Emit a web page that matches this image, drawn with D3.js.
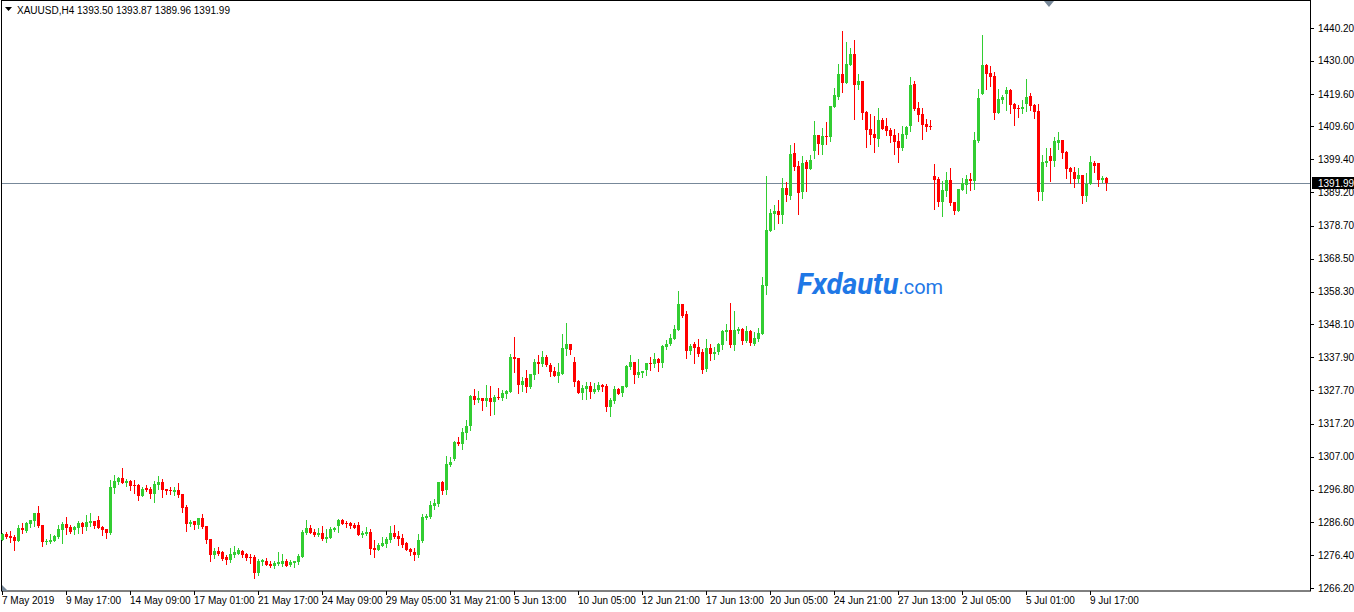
<!DOCTYPE html>
<html lang="en">
<head>
  <meta charset="UTF-8">
  <style>
    body { margin: 0; background: #fff; }
    svg { display: block; font-family: "Liberation Sans", Arial, sans-serif; }
    .tick-label { font-size: 10px; fill: #000; }
    .up { fill: #32cd32; stroke: #32cd32; }
    .down { fill: #ff0000; stroke: #ff0000; }
  </style>
</head>
<body>
  <script src="https://d3js.org/d3.v7.min.js"></script>
  <svg></svg>
  <script>

// XAUUSD H4 candles, 7 May 2019 -> 10 Jul 2019
const opens = [
  1281.2,1283.0,1282.3,1281.9,1280.9,1284.8,1283.9,1286.1,1287.1,1289.5,
  1285.8,1280.5,1280.5,1280.9,1282.0,1284.3,1286.1,1285.1,1284.2,1284.9,
  1286.4,1285.1,1286.4,1287.0,1287.3,1285.2,1284.5,1283.3,1297.4,1299.2,
  1300.4,1298.8,1299.4,1298.2,1298.3,1294.9,1297.3,1297.1,1295.5,1298.3,
  1299.1,1296.9,1296.7,1296.1,1296.6,1295.4,1291.4,1286.1,1287.0,1285.9,
  1287.8,1285.5,1281.4,1276.4,1277.8,1277.4,1275.9,1274.9,1276.4,1276.9,
  1277.7,1276.7,1275.9,1275.9,1270.9,1274.4,1274.6,1273.6,1273.0,1273.7,
  1273.8,1274.6,1273.5,1274.0,1274.3,1275.9,1283.2,1284.8,1283.6,1282.7,
  1283.3,1281.5,1281.8,1284.3,1285.4,1287.3,1286.5,1286.4,1285.9,1285.9,
  1282.8,1283.1,1283.6,1278.6,1278.0,1279.2,1279.9,1281.1,1283.4,1282.4,
  1281.7,1280.3,1278.3,1277.4,1276.4,1280.8,1288.0,1288.4,1291.8,1292.4,
  1299.1,1296.8,1304.5,1306.2,1311.6,1311.0,1314.4,1316.6,1325.8,1324.6,
  1325.2,1324.3,1325.2,1324.0,1325.5,1325.3,1326.6,1327.2,1338.0,1337.7,
  1329.3,1331.4,1328.6,1332.5,1336.4,1335.8,1338.0,1335.5,1333.7,1332.2,
  1332.7,1340.5,1342.0,1336.4,1330.5,1326.8,1328.1,1329.0,1327.1,1327.7,
  1329.3,1329.0,1322.5,1324.3,1328.0,1326.7,1328.6,1335.0,1336.4,1332.4,
  1333.0,1333.9,1336.1,1335.8,1337.4,1336.1,1341.1,1342.0,1343.6,1346.4,
  1354.4,1351.3,1339.9,1342.0,1341.1,1339.5,1334.2,1340.7,1339.0,1339.6,
  1341.7,1345.7,1346.4,1341.7,1346.2,1346.7,1342.9,1346.1,1342.1,1343.6,
  1345.2,1360.1,1377.1,1382.4,1383.3,1382.1,1390.5,1388.0,1401.5,1397.3,
  1389.1,1398.6,1396.3,1402.1,1407.0,1403.9,1406.7,1406.3,1415.7,1418.8,
  1425.9,1423.2,1428.8,1432.1,1422.5,1423.7,1414.1,1408.8,1407.3,1405.7,
  1411.6,1409.8,1408.5,1407.0,1405.1,1402.9,1407.0,1409.8,1422.8,1415.4,
  1413.5,1410.4,1409.8,1394.2,1393.3,1386.1,1389.6,1393.0,1386.1,1383.3,
  1390.0,1391.4,1393.3,1392.7,1405.1,1419.7,1428.7,1426.2,1425.3,1413.8,
  1417.8,1419.7,1421.0,1416.6,1415.4,1415.0,1416.6,1419.1,1416.3,1414.4,
  1389.3,1398.3,1400.4,1398.9,1404.5,1405.4,1401.7,1396.7,1395.5,1393.3,
  1394.5,1388.0,1391.7,1398.3,1398.3,1393.0,1393.50
];
const highs = [
  1283.3,1283.5,1283.9,1282.7,1285.8,1286.4,1286.7,1287.3,1289.5,1291.7,
  1285.8,1281.4,1283.0,1282.7,1285.8,1286.8,1288.4,1285.8,1285.5,1287.0,
  1286.7,1288.9,1289.4,1287.0,1288.6,1285.6,1284.5,1299.8,1301.3,1300.8,
  1303.4,1300.1,1299.8,1299.8,1298.6,1297.5,1298.2,1297.5,1299.4,1301.0,
  1300.1,1296.9,1297.6,1297.5,1298.8,1295.4,1292.0,1287.3,1287.0,1287.9,
  1289.2,1285.5,1281.4,1278.7,1278.9,1277.7,1276.4,1278.5,1279.2,1278.7,
  1278.0,1277.2,1276.7,1276.4,1275.1,1275.3,1275.4,1274.6,1274.7,1277.4,
  1276.7,1275.1,1274.9,1274.6,1276.7,1284.2,1287.3,1285.8,1284.4,1284.8,
  1285.4,1284.4,1285.0,1285.0,1287.6,1287.6,1287.1,1286.8,1286.3,1286.7,
  1284.0,1285.1,1284.5,1281.1,1280.3,1282.1,1281.9,1285.4,1285.8,1283.9,
  1283.0,1280.5,1278.7,1278.6,1283.0,1289.2,1289.1,1293.2,1293.8,1299.1,
  1299.4,1307.2,1306.8,1311.9,1313.1,1315.9,1318.4,1326.2,1328.0,1327.4,
  1325.2,1329.3,1328.9,1326.2,1328.3,1327.6,1327.7,1338.9,1344.2,1337.7,
  1331.8,1333.9,1332.7,1337.4,1338.6,1339.8,1338.6,1336.2,1335.0,1336.2,
  1345.1,1348.5,1342.0,1338.0,1330.8,1329.3,1330.2,1330.2,1329.9,1330.2,
  1329.6,1329.6,1325.3,1329.0,1328.4,1329.0,1335.5,1338.6,1336.4,1337.4,
  1333.6,1336.1,1338.0,1339.2,1337.7,1341.7,1343.3,1345.1,1347.9,1358.5,
  1354.4,1352.3,1342.0,1342.6,1343.6,1340.5,1343.6,1342.0,1341.0,1342.4,
  1346.4,1348.2,1354.8,1352.3,1347.3,1347.0,1347.6,1346.4,1345.7,1347.0,
  1362.8,1394.2,1384.0,1385.2,1386.8,1393.6,1392.4,1404.0,1404.5,1399.0,
  1400.4,1399.2,1400.7,1411.3,1407.0,1409.2,1411.0,1416.0,1421.6,1429.0,
  1439.3,1435.9,1434.0,1436.5,1425.9,1423.7,1414.4,1413.5,1412.9,1415.4,
  1412.3,1412.3,1409.1,1408.8,1407.6,1409.8,1409.8,1425.0,1423.7,1417.2,
  1415.4,1411.9,1411.6,1398.0,1393.9,1392.7,1395.5,1396.7,1386.1,1390.2,
  1393.6,1394.5,1395.2,1407.9,1421.3,1438.1,1429.0,1428.4,1426.5,1421.3,
  1419.4,1421.9,1421.3,1416.9,1416.3,1417.8,1424.4,1420.0,1416.6,1416.6,
  1400.8,1402.9,1402.9,1406.4,1407.9,1405.4,1402.0,1397.0,1397.0,1396.7,
  1394.5,1395.2,1400.4,1398.9,1398.3,1394.2,1393.87
];
const lows = [
  1281.0,1281.6,1280.6,1278.0,1280.8,1283.4,1283.7,1285.1,1285.4,1285.2,
  1279.3,1280.0,1280.3,1280.7,1281.8,1280.3,1283.1,1283.3,1283.1,1283.3,
  1283.3,1284.3,1285.5,1284.9,1284.7,1282.7,1281.8,1283.0,1295.8,1298.5,
  1298.8,1297.9,1296.6,1295.8,1293.6,1294.9,1296.3,1294.3,1293.0,1297.1,
  1294.6,1295.5,1295.4,1295.2,1294.6,1289.9,1283.9,1285.5,1284.6,1284.8,
  1284.8,1280.3,1274.6,1275.6,1276.6,1274.9,1273.6,1274.4,1275.9,1276.7,
  1275.9,1274.9,1274.0,1269.4,1270.3,1273.5,1273.3,1272.8,1272.5,1273.3,
  1273.1,1273.0,1273.1,1272.8,1273.6,1275.7,1282.9,1283.2,1282.3,1282.3,
  1281.1,1280.5,1281.8,1284.0,1283.6,1286.1,1285.2,1284.8,1284.8,1282.8,
  1282.1,1282.8,1276.7,1275.8,1278.0,1279.2,1278.9,1280.6,1281.6,1279.5,
  1279.0,1278.0,1276.5,1274.9,1275.9,1280.5,1287.5,1288.0,1290.6,1291.8,
  1295.5,1295.5,1304.2,1306.0,1310.6,1309.3,1312.5,1315.3,1323.4,1324.1,
  1321.5,1322.7,1320.0,1320.4,1324.9,1324.5,1325.3,1327.2,1333.4,1326.9,
  1327.4,1327.2,1328.3,1331.2,1333.1,1335.2,1335.2,1332.2,1332.2,1330.3,
  1332.7,1338.6,1338.9,1328.9,1326.9,1324.9,1324.9,1325.3,1326.8,1327.4,
  1327.4,1321.3,1319.7,1323.8,1326.6,1326.0,1328.6,1334.4,1330.0,1331.8,
  1331.9,1332.4,1333.9,1334.9,1333.6,1334.9,1340.5,1341.7,1343.6,1346.4,
  1350.4,1337.7,1339.0,1336.2,1338.3,1333.0,1333.5,1337.0,1337.5,1338.8,
  1340.5,1343.3,1341.2,1340.1,1345.5,1342.1,1342.6,1341.7,1341.7,1342.9,
  1345.1,1357.7,1377.1,1377.8,1379.6,1379.6,1386.5,1387.0,1396.0,1382.5,
  1387.5,1389.4,1396.3,1399.9,1400.9,1400.9,1404.2,1405.2,1415.7,1418.2,
  1420.4,1423.2,1428.8,1411.9,1421.3,1411.9,1403.2,1404.2,1401.7,1403.6,
  1408.8,1407.0,1404.8,1401.1,1398.6,1402.3,1406.0,1408.2,1414.7,1411.3,
  1405.7,1408.2,1408.8,1384.0,1384.9,1381.8,1388.0,1385.2,1382.4,1383.3,
  1389.9,1388.9,1389.9,1390.2,1404.8,1419.7,1421.3,1422.2,1411.9,1413.8,
  1416.9,1414.7,1413.8,1410.1,1412.6,1413.8,1414.4,1414.7,1412.3,1386.8,
  1386.8,1397.3,1392.7,1397.3,1402.6,1399.8,1393.6,1392.1,1390.8,1392.4,
  1385.8,1386.5,1391.7,1395.5,1391.1,1392.4,1389.96
];
const closes = [
  1283.1,1282.1,1281.8,1280.9,1284.8,1284.3,1286.4,1287.3,1289.5,1285.6,
  1280.5,1280.9,1281.2,1282.3,1284.5,1286.1,1284.9,1283.7,1285.2,1286.4,
  1285.1,1286.7,1287.0,1285.4,1284.9,1284.3,1283.4,1297.6,1299.4,1300.3,
  1298.8,1299.4,1298.0,1297.9,1294.9,1297.1,1296.6,1295.5,1298.5,1299.1,
  1296.7,1296.4,1296.2,1296.8,1295.1,1291.2,1286.2,1286.7,1285.9,1287.9,
  1285.0,1281.1,1276.4,1277.8,1276.9,1275.2,1274.9,1276.7,1277.4,1278.0,
  1276.4,1275.6,1275.6,1270.9,1274.7,1274.9,1273.3,1273.1,1274.0,1274.4,
  1274.6,1273.1,1274.3,1274.6,1276.1,1283.6,1284.7,1283.4,1282.7,1283.3,
  1281.5,1282.1,1284.5,1284.8,1287.3,1286.2,1286.1,1285.5,1284.9,1282.8,
  1283.3,1283.6,1278.4,1278.0,1279.5,1280.3,1281.4,1283.4,1282.0,1281.5,
  1279.6,1278.0,1277.3,1276.4,1281.1,1288.2,1288.7,1292.0,1292.6,1299.1,
  1296.4,1304.7,1305.5,1311.6,1310.9,1314.6,1316.5,1325.8,1324.6,1325.2,
  1324.3,1325.2,1324.0,1325.5,1325.2,1326.8,1327.4,1338.0,1337.3,1329.3,
  1330.6,1328.8,1332.7,1336.4,1335.9,1338.0,1335.5,1333.4,1332.2,1333.3,
  1340.8,1342.0,1340.2,1330.3,1326.9,1328.3,1329.0,1327.1,1328.0,1329.3,
  1328.8,1322.5,1324.6,1328.0,1326.6,1329.0,1335.2,1336.4,1332.4,1333.3,
  1333.6,1336.1,1335.8,1337.4,1336.1,1341.4,1342.0,1343.9,1346.7,1354.4,
  1350.7,1339.9,1341.4,1340.8,1338.9,1333.9,1340.7,1339.0,1339.6,1342.1,
  1345.9,1346.4,1341.7,1346.4,1346.7,1343.0,1346.1,1342.3,1343.9,1345.4,
  1360.3,1377.4,1382.7,1383.3,1382.1,1390.5,1388.3,1401.0,1397.0,1388.9,
  1398.2,1396.3,1399.2,1407.0,1404.2,1406.7,1406.3,1416.0,1419.4,1425.9,
  1423.2,1429.0,1432.1,1422.5,1423.7,1413.8,1408.5,1407.0,1406.0,1411.6,
  1408.8,1408.2,1406.7,1404.8,1402.9,1407.3,1409.5,1422.5,1415.1,1413.2,
  1410.1,1409.5,1409.5,1393.0,1386.1,1389.9,1393.0,1385.8,1383.3,1390.2,
  1392.0,1393.3,1392.7,1405.4,1418.5,1428.7,1425.9,1425.0,1413.8,1418.2,
  1418.8,1421.0,1416.3,1415.0,1415.0,1415.7,1418.8,1416.0,1414.1,1389.3,
  1398.6,1398.9,1398.9,1405.1,1405.4,1401.4,1396.4,1395.5,1393.3,1394.5,
  1388.0,1391.7,1398.6,1397.3,1393.0,1393.6,1391.99
];

// axis labels as shown by the terminal
const priceTicks = [1440.20,1430.00,1419.60,1409.60,1399.40,1389.20,1378.70,1368.50,1358.30,
                    1348.10,1337.90,1327.70,1317.20,1307.00,1296.80,1286.60,1276.40,1266.20];
const timeLabels = ["7 May 2019","9 May 17:00","14 May 09:00","17 May 01:00","21 May 17:00",
                    "24 May 09:00","29 May 05:00","31 May 21:00","5 Jun 13:00","10 Jun 05:00",
                    "12 Jun 21:00","17 Jun 13:00","20 Jun 05:00","24 Jun 21:00","27 Jun 13:00",
                    "2 Jul 05:00","5 Jul 01:00","9 Jul 17:00"];
const barsPerLabel = 16;
const symbol = "XAUUSD,H4";
const lastBar = [1393.50, 1393.87, 1389.96, 1391.99]; // O H L C
const bidPrice = 1391.99;

const w = 1354;
const h = 612;
const plotRight = 1310;
const plotBottom = 591;
const n = opens.length;

const svg = d3.select("svg")
              .attr("width", w)
              .attr("height", h);

// bar index -> candle centre, 4px per bar
const xScale = d3.scaleLinear()
                 .domain([0, n - 1])
                 .range([2.5, 2.5 + 4 * (n - 1)]);

const yScale = d3.scaleLinear()
                 .domain([1266.2, 1440.2])
                 .range([588, 28]);

//frame
svg.append("rect")
   .attr("x", 1.5).attr("y", 0.5)
   .attr("width", plotRight - 1).attr("height", plotBottom - 0.5)
   .attr("fill", "none").attr("stroke", "#000");

//bid line
svg.append("line")
   .attr("x1", 2).attr("x2", plotRight)
   .attr("y1", Math.round(yScale(bidPrice)) + 0.5).attr("y2", Math.round(yScale(bidPrice)) + 0.5)
   .attr("stroke", "#778899");

//watermark
const wm = svg.append("text")
              .attr("x", 797).attr("y", 294)
              .attr("fill", "#1f78e6")
              .style("font-family", "Roboto, 'Liberation Sans', sans-serif");
wm.append("tspan").text("Fxdautu")
  .style("font-size", "29px").style("font-weight", "bold").style("font-style", "italic");
wm.append("tspan").text(".com")
  .style("font-size", "20px");

//candles
const candles = svg.append("g")
                   .selectAll("g")
                   .data(d3.range(n))
                   .enter()
                   .append("g")
                   .attr("class", i => closes[i] >= opens[i] ? "up" : "down");

candles.append("line")
       .attr("x1", i => xScale(i)).attr("x2", i => xScale(i))
       .attr("y1", i => Math.round(yScale(highs[i])))
       .attr("y2", i => Math.round(yScale(lows[i])) + 1)
       .attr("stroke-width", 1);

candles.append("rect")
       .attr("x", i => xScale(i) - 1.5)
       .attr("width", 3)
       .attr("y", i => Math.round(yScale(Math.max(opens[i], closes[i]))))
       .attr("height", i => Math.max(1, Math.round(yScale(Math.min(opens[i], closes[i]))) - Math.round(yScale(Math.max(opens[i], closes[i])))))
       .attr("stroke", "none");

//price axis
const yAxis = svg.append("g");
yAxis.selectAll("line")
     .data(priceTicks)
     .enter()
     .append("line")
     .attr("x1", plotRight).attr("x2", plotRight + 4)
     .attr("y1", d => Math.round(yScale(d)) + 0.5).attr("y2", d => Math.round(yScale(d)) + 0.5)
     .attr("stroke", "#000");
yAxis.selectAll("text")
     .data(priceTicks)
     .enter()
     .append("text")
     .attr("class", "tick-label")
     .attr("x", plotRight + 8)
     .attr("y", d => yScale(d) + 3.5)
     .text(d => d.toFixed(2));

//bid price box
svg.append("rect")
   .attr("x", plotRight + 2).attr("y", Math.round(yScale(bidPrice)) - 6)
   .attr("width", w - plotRight - 2).attr("height", 12)
   .attr("fill", "#000");
svg.append("text")
   .attr("class", "tick-label")
   .attr("x", plotRight + 8).attr("y", yScale(bidPrice) + 3.5)
   .style("fill", "#fff")
   .text(bidPrice.toFixed(2));

//time axis
const xAxis = svg.append("g");
xAxis.selectAll("line")
     .data(timeLabels)
     .enter()
     .append("line")
     .attr("x1", (d, k) => Math.floor(xScale(k * barsPerLabel)) + 0.5)
     .attr("x2", (d, k) => Math.floor(xScale(k * barsPerLabel)) + 0.5)
     .attr("y1", plotBottom).attr("y2", plotBottom + 4)
     .attr("stroke", "#000");
xAxis.selectAll("text")
     .data(timeLabels)
     .enter()
     .append("text")
     .attr("class", "tick-label")
     .attr("x", (d, k) => Math.floor(xScale(k * barsPerLabel)))
     .attr("y", 604)
     .text(d => d);

//markers
svg.append("path").attr("d", "M2,585 L2,591 L8,591 Z").attr("fill", "#778899");
svg.append("path").attr("d", "M1044,1 L1054,1 L1049,7 Z").attr("fill", "#778899");

//header
svg.append("path").attr("d", "M5,7 L12,7 L8.5,11 Z").attr("fill", "#000");
svg.append("text")
   .attr("class", "tick-label")
   .attr("x", 17).attr("y", 14)
   .text(symbol + "  " + lastBar.map(v => v.toFixed(2)).join(" "));

  </script>
</body>
</html>
